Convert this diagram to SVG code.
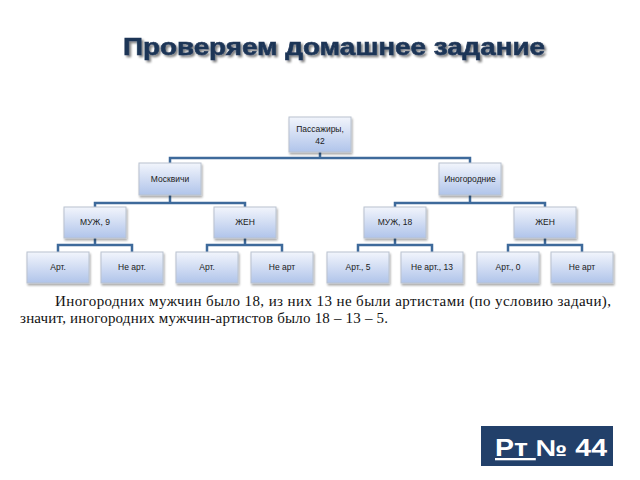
<svg xmlns="http://www.w3.org/2000/svg" width="640" height="480" viewBox="0 0 640 480">
<defs>
<linearGradient id="g" x1="0" y1="0" x2="0" y2="1">
<stop offset="0" stop-color="#f2f5fc"/>
<stop offset="1" stop-color="#b0c4ea"/>
</linearGradient>
<filter id="sh" x="-20%" y="-20%" width="150%" height="160%">
<feGaussianBlur in="SourceAlpha" stdDeviation="1.2"/>
<feOffset dx="1" dy="2" result="b"/>
<feComponentTransfer><feFuncA type="linear" slope="0.35"/></feComponentTransfer>
<feMerge><feMergeNode/><feMergeNode in="SourceGraphic"/></feMerge>
</filter>
<filter id="tsh" x="-5%" y="-20%" width="110%" height="160%">
<feGaussianBlur in="SourceAlpha" stdDeviation="0.8"/>
<feOffset dx="1.5" dy="1.5"/>
<feComponentTransfer><feFuncA type="linear" slope="0.5"/></feComponentTransfer>
<feMerge><feMergeNode/><feMergeNode in="SourceGraphic"/></feMerge>
</filter>
</defs>
<style>
.b{fill:url(#g);stroke:#b9c2cf;stroke-width:1;filter:url(#sh)}
.t{font-family:"Liberation Sans",Arial,sans-serif;font-size:8.5px;fill:#1a1a1a;text-anchor:middle}
.c{fill:none;stroke:#3e6a9b;stroke-width:2.5}
.p{font-family:"Liberation Serif","Times New Roman",serif;font-size:15px;fill:#111}
</style>
<rect width="640" height="480" fill="#fff"/>
<text x="123" y="55" font-family="Liberation Sans,Arial,sans-serif" font-weight="bold" font-size="24" fill="#1d3557" stroke="#1d3557" stroke-width="0.6" textLength="422" lengthAdjust="spacingAndGlyphs" filter="url(#tsh)">Проверяем домашнее задание</text>
<g id="connectors">
<path class="c" d="M320 152V158M170 163V158H470V163"/>
<path class="c" d="M170 195V203M95 207V203H245V207M470 195V203M395 207V203H545V207"/>
<path class="c" d="M95 238V245M58 252V245H132V252M245 238V245M207 252V245H282V252M395 238V245M358 252V245H432V252M545 238V245M508 252V245H582V252"/>
</g>
<g id="root"><rect class="b" x="289" y="117" width="62" height="35"/><text class="t" x="320" y="132">Пассажиры,</text><text class="t" x="320" y="144">42</text></g>
<g id="moskvichi"><rect class="b" x="139" y="163" width="62" height="32"/><text class="t" x="170" y="182">Москвичи</text></g>
<g id="inogorodnie"><rect class="b" x="439" y="163" width="62" height="32"/><text class="t" x="470" y="182">Иногородние</text></g>
<g id="muzh9"><rect class="b" x="64" y="207" width="62" height="31"/><text class="t" x="95" y="225">МУЖ, 9</text></g>
<g id="zhen1"><rect class="b" x="214" y="207" width="62" height="31"/><text class="t" x="245" y="225">ЖЕН</text></g>
<g id="muzh18"><rect class="b" x="364" y="207" width="62" height="31"/><text class="t" x="395" y="225">МУЖ, 18</text></g>
<g id="zhen2"><rect class="b" x="514" y="207" width="62" height="31"/><text class="t" x="545" y="225">ЖЕН</text></g>
<g id="l1"><rect class="b" x="27" y="252" width="62" height="31"/><text class="t" x="58" y="270">Арт.</text></g>
<g id="l2"><rect class="b" x="101" y="252" width="62" height="31"/><text class="t" x="132" y="270">Не арт.</text></g>
<g id="l3"><rect class="b" x="176" y="252" width="62" height="31"/><text class="t" x="207" y="270">Арт.</text></g>
<g id="l4"><rect class="b" x="251" y="252" width="62" height="31"/><text class="t" x="282" y="270">Не арт</text></g>
<g id="l5"><rect class="b" x="327" y="252" width="62" height="31"/><text class="t" x="358" y="270">Арт., 5</text></g>
<g id="l6"><rect class="b" x="401" y="252" width="62" height="31"/><text class="t" x="432" y="270">Не арт., 13</text></g>
<g id="l7"><rect class="b" x="477" y="252" width="62" height="31"/><text class="t" x="508" y="270">Арт., 0</text></g>
<g id="l8"><rect class="b" x="551" y="252" width="62" height="31"/><text class="t" x="582" y="270">Не арт</text></g>
<text class="p" x="55" y="306" textLength="556" lengthAdjust="spacing">Иногородних мужчин было 18, из них 13 не были артистами (по условию задачи),</text>
<text class="p" x="20" y="323" textLength="368" lengthAdjust="spacing">значит, иногородних мужчин-артистов было 18 – 13 – 5.</text>
<rect x="481" y="426" width="132" height="40" fill="#22406a"/>
<text x="495" y="456" font-family="Liberation Sans,Arial,sans-serif" font-weight="bold" font-size="23" fill="#fff" textLength="112" lengthAdjust="spacingAndGlyphs"><tspan text-decoration="underline">Рт </tspan>№ 44</text>
</svg>
